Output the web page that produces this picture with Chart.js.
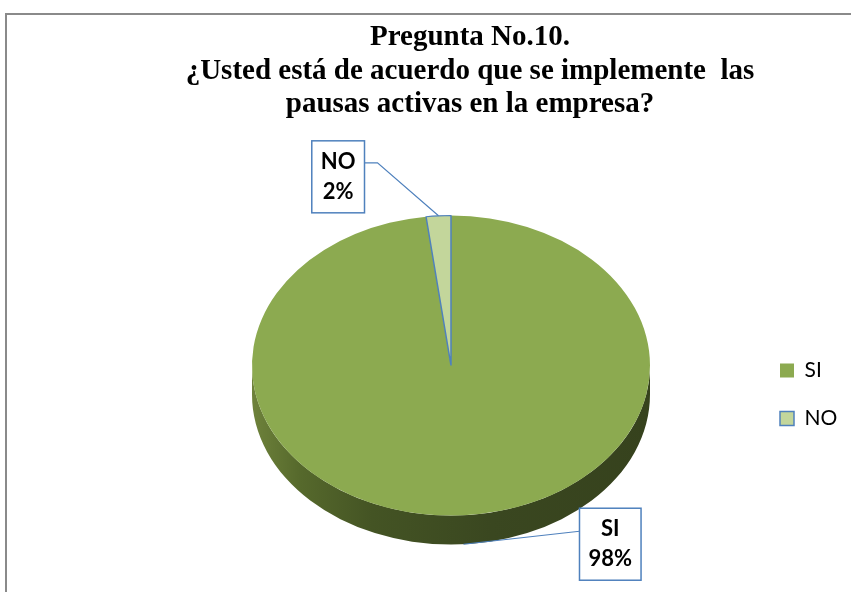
<!DOCTYPE html>
<html>
<head>
<meta charset="utf-8">
<script src="https://cdn.jsdelivr.net/npm/chart.js"></script>
<style>
  body { margin: 0; background: #fff; overflow: hidden; }
  #box {
    position: absolute; left: 5px; top: 13px;
    width: 920px; height: 647px;
    border: 2px solid #8a8a8a;
    background: #fff;
  }
</style>
</head>
<body>
<div id="box"><canvas id="chart"></canvas></div>
<script>
// Pregunta 10 - pausas activas
const categories = ['SI', 'NO'];
const percentages = [98, 2];
const sliceColors = ['#8caa50', '#c3d69b'];
const sliceBorders = ['#8caa50', '#4f81bd'];
const titleLines = [
    'Pregunta No.10.',
    '¿Usted está de acuerdo que se implemente  las',
    'pausas activas en la empresa?'
];

const depth = 29;          // thickness of the 3d pie
const tilt = 150 / 199;    // vertical squash of the disc
// where each callout box sits relative to its slice
const callouts = [
    { dx: 116, dy: -36, face: 'base' },   // SI
    { dx: -74, dy: -75, face: 'top' }     // NO
];

// layout: legend column starts at x=746, pie centred at 444, title centred at 463
const canvasW = 920;
const legendLeft = 746, pieCx = 444, titleCx = 463;
const legendFont = { family: 'Lato', size: 21 };
const legendPad = 27;
const legendBox = 14;
const mctx = document.createElement('canvas').getContext('2d');
mctx.font = legendFont.size + 'px ' + legendFont.family;
const legendTextW = Math.max(...categories.map(c => mctx.measureText(c).width));
const legendW = legendPad + legendBox + legendFont.size / 2 + legendTextW + 10;
const padLeft = 2 * titleCx - legendLeft - legendW;
const padRight = canvasW - legendLeft - legendW;
const spacerW = 2 * pieCx - legendLeft - padLeft;

// empty box on the left so the pie sits under the title like in the original
const spacerPlugin = {
    id: 'spacer',
    beforeInit(chart) {
        Chart.layouts.addBox(chart, {
            position: 'left',
            fullSize: false,
            weight: 0,
            options: {},
            top: 0, left: 0, right: 0, bottom: 0, width: 0, height: 0,
            isHorizontal() { return false; },
            update(maxWidth, maxHeight) { this.width = spacerW; this.height = maxHeight; },
            draw() {}
        });
    }
};

const tiltPlugin = {
    id: 'tilt',
    beforeDatasetsDraw(chart) {
        const ctx = chart.ctx;
        const arcs = chart.getDatasetMeta(0).data;
        const { x, y, outerRadius: r } = arcs[0];
        const ry = r * tilt;

        // side wall (only the front half shows)
        const grad = ctx.createLinearGradient(x - r, 0, x + r, 0);
        grad.addColorStop(0, '#6e823b');
        grad.addColorStop(0.12, '#56692c');
        grad.addColorStop(0.3, '#445424');
        grad.addColorStop(0.6, '#3a4720');
        grad.addColorStop(1, '#36421d');
        ctx.save();
        arcs.forEach(arc => {
            [-2 * Math.PI, 0, 2 * Math.PI].forEach(off => {
                const a1 = Math.max(arc.startAngle, off);
                const a2 = Math.min(arc.endAngle, off + Math.PI);
                if (a2 <= a1) return;
                ctx.beginPath();
                ctx.ellipse(x, y - depth, r, ry, 0, a1, a2);
                ctx.ellipse(x, y, r, ry, 0, a2, a1, true);
                ctx.closePath();
                ctx.fillStyle = grad;
                ctx.fill();
            });
        });
        ctx.restore();

        // top face: squash the library's pie and lift it by the thickness
        ctx.save();
        ctx.translate(x, y - depth);
        ctx.scale(1, tilt);
        ctx.translate(-x, -y);
    },
    afterDatasetsDraw(chart) {
        const ctx = chart.ctx;
        ctx.restore();

        const arcs = chart.getDatasetMeta(0).data;
        const values = chart.data.datasets[0].data;
        const total = values.reduce((a, b) => a + b, 0);
        ctx.save();
        ctx.font = 'bold 22px Lato';
        ctx.textAlign = 'center';
        ctx.textBaseline = 'middle';
        arcs.forEach((arc, i) => {
            const c = callouts[i];
            const r = arc.outerRadius;
            const m = (arc.startAngle + arc.endAngle) / 2;
            const ax = arc.x + r * Math.cos(m);
            const ay = (c.face === 'top' ? arc.y - depth : arc.y) + r * tilt * Math.sin(m);
            const lines = [chart.data.labels[i], Math.round(values[i] / total * 100) + '%'];
            const w = Math.max(...lines.map(t => ctx.measureText(t).width)) + 18;
            const h = 72;
            const top = ay + c.dy;
            const left = c.dx > 0 ? ax + c.dx : ax + c.dx - w;

            ctx.strokeStyle = '#4f81bd';
            ctx.lineWidth = 1.2;
            ctx.beginPath();
            ctx.moveTo(ax, ay);
            if (c.dx > 0) {
                ctx.lineTo(left, top + 23);
            } else {
                ctx.lineTo(ax - 61, top + 22);
                ctx.lineTo(left + w, top + 22);
            }
            ctx.stroke();

            ctx.fillStyle = '#fff';
            ctx.fillRect(left, top, w, h);
            ctx.lineWidth = 1.5;
            ctx.strokeRect(left, top, w, h);

            ctx.fillStyle = '#000';
            lines.forEach((t, j) => ctx.fillText(t, left + w / 2, top + 21 + j * 30));
        });
        ctx.restore();
    }
};

new Chart(document.getElementById('chart'), {
    type: 'pie',
    data: {
        labels: categories,
        datasets: [{
            data: percentages,
            backgroundColor: sliceColors,
            borderColor: sliceBorders,
            borderWidth: [0, 1.5],
            radius: 199
        }]
    },
    options: {
        responsive: true,
        maintainAspectRatio: false,
        animation: false,
        events: [],
        layout: { padding: { left: padLeft, right: padRight, top: 0, bottom: 0 } },
        plugins: {
            title: {
                display: true,
                text: titleLines,
                color: '#000',
                font: { family: 'Liberation Serif', size: 29, weight: 'bold', lineHeight: 1.15 },
                padding: { top: 6, bottom: 6 }
            },
            legend: {
                position: 'right',
                fullSize: false,
                labels: {
                    color: '#000',
                    boxWidth: legendBox,
                    boxHeight: legendBox,
                    padding: legendPad,
                    font: legendFont
                }
            },
            tooltip: { enabled: false }
        }
    },
    plugins: [spacerPlugin, tiltPlugin]
});
</script>
</body>
</html>
